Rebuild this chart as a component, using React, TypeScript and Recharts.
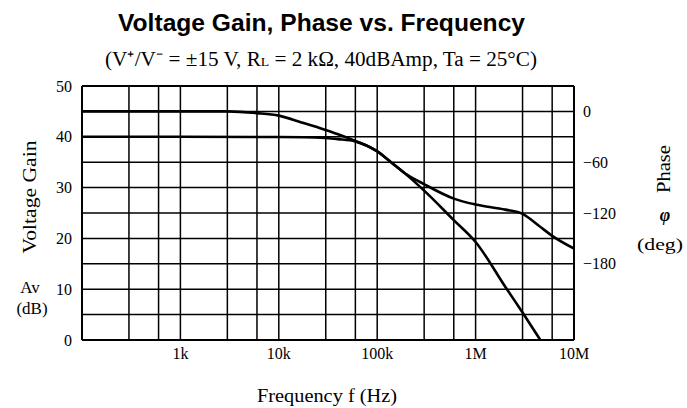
import React from "react";
import { ComposedChart, Line, XAxis, YAxis, CartesianGrid } from "recharts";

// Gain curve: frequency (Hz) vs voltage gain (dB)
const gainFreq = [100, 1000, 10000, 30000, 40000, 60000, 100000, 138000, 191000, 300000, 600000, 1000000, 2000000, 3000000, 4550000];
const gainDb = [40, 40, 39.95, 39.75, 39.55, 39.1, 37.1, 35.0, 32.8, 29.4, 23.6, 19.3, 10.5, 5.4, 0];

// Phase curve: frequency (Hz) vs phase (deg)
const phaseFreq = [100, 1000, 3000, 6000, 10000, 17000, 30000, 40000, 60000, 100000, 138000, 191000, 300000, 600000, 1000000, 2000000, 3000000, 4500000, 6000000, 10000000];
const phaseDeg = [0, 0, 0, -2, -5, -13, -22, -27, -35, -47, -60, -73, -86, -103, -110, -116, -121, -136, -147, -162];

// Axis ticks
const freqGrid = [100, 300, 600, 1000, 3000, 6000, 10000, 30000, 60000, 100000, 300000, 600000, 1000000, 3000000, 6000000, 10000000];
const freqLabels: Record<number, string> = { 1000: "1k", 10000: "10k", 100000: "100k", 1000000: "1M", 10000000: "10M" };
const gainTicks = [0, 5, 10, 15, 20, 25, 30, 35, 40, 45, 50];
const phaseTicks = [0, -60, -120, -180];

const gainData = gainFreq.map((f, i) => ({ f, db: gainDb[i] }));
const phaseData = phaseFreq.map((f, i) => ({ f, deg: phaseDeg[i] }));

const serif = "'Liberation Serif', 'Times New Roman', serif";
const tickStyle = { fontFamily: serif, fontSize: 16, fill: "#000" };

export default function App() {
  return (
    <div style={{ position: "absolute", left: 0, top: 0, width: 687, height: 408, background: "#fff" }}>
      <ComposedChart
        width={687}
        height={408}
        margin={{ top: 86, right: 53, left: 32, bottom: 38 }}
      >
        <CartesianGrid yAxisId="gain" stroke="#000" strokeWidth={1.5} fill="none" />
        <XAxis
          dataKey="f"
          type="number"
          scale="log"
          domain={[100, 10000000]}
          ticks={freqGrid}
          tickFormatter={(v: number) => freqLabels[v] ?? ""}
          allowDataOverflow
          height={30}
          tickLine={false}
          tickMargin={2}
          axisLine={{ stroke: "#000", strokeWidth: 2 }}
          tick={tickStyle}
          interval={0}
        />
        <YAxis
          yAxisId="gain"
          orientation="left"
          type="number"
          domain={[0, 50]}
          ticks={gainTicks}
          tickFormatter={(v: number) => (v % 10 === 0 ? String(v) : "")}
          width={50}
          tickLine={false}
          tickMargin={4}
          axisLine={{ stroke: "#000", strokeWidth: 2 }}
          tick={tickStyle}
          interval={0}
        />
        <YAxis
          yAxisId="phase"
          orientation="right"
          type="number"
          domain={[-270, 30]}
          ticks={phaseTicks}
          tickFormatter={(v: number) => (v === 0 ? "0" : "\u2212" + String(-v))}
          width={60}
          tickLine={false}
          tickMargin={3}
          axisLine={{ stroke: "#000", strokeWidth: 2 }}
          tick={tickStyle}
          interval={0}
        />
        <Line
          yAxisId="gain"
          data={gainData}
          dataKey="db"
          type="monotone"
          stroke="#000"
          strokeWidth={2.6}
          dot={false}
          isAnimationActive={false}
        />
        <Line
          yAxisId="phase"
          data={phaseData}
          dataKey="deg"
          type="monotone"
          stroke="#000"
          strokeWidth={2.6}
          dot={false}
          isAnimationActive={false}
        />
      </ComposedChart>
      <svg
        width={687}
        height={408}
        style={{ position: "absolute", left: 0, top: 0, pointerEvents: "none" }}
      >
        <line x1={82} y1={86} x2={574} y2={86} stroke="#000" strokeWidth={2} />
        <text
          x={321.5}
          y={31}
          textAnchor="middle"
          fontFamily="'Liberation Sans', Arial, sans-serif"
          fontWeight="bold"
          fontSize={24}
          textLength={407}
          lengthAdjust="spacingAndGlyphs"
        >
          Voltage Gain, Phase vs. Frequency
        </text>
        <text
          x={321}
          y={66}
          textAnchor="middle"
          fontFamily={serif}
          fontSize={20}
          textLength={432}
          lengthAdjust="spacingAndGlyphs"
        >
          (V⁺/V⁻ = ±15 V,  R<tspan fontSize={13}>L</tspan> = 2 kΩ,  40dBAmp,  Ta = 25°C)
        </text>
        <text
          transform="translate(36,197) rotate(-90)"
          textAnchor="middle"
          fontFamily={serif}
          fontSize={19}
          textLength={113}
          lengthAdjust="spacingAndGlyphs"
        >
          Voltage Gain
        </text>
        <text x={30} y={293} textAnchor="middle" fontFamily={serif} fontSize={17}>
          Av
        </text>
        <text x={32} y={314} textAnchor="middle" fontFamily={serif} fontSize={17}>
          (dB)
        </text>
        <text
          transform="translate(670,169) rotate(-90)"
          textAnchor="middle"
          fontFamily={serif}
          fontSize={19}
          textLength={48}
          lengthAdjust="spacingAndGlyphs"
        >
          Phase
        </text>
        <text
          x={665}
          y={221}
          textAnchor="middle"
          fontFamily={serif}
          fontSize={18}
          fontWeight="bold"
          fontStyle="italic"
        >
          φ
        </text>
        <text
          x={660}
          y={250}
          textAnchor="middle"
          fontFamily={serif}
          fontSize={17}
          textLength={46}
          lengthAdjust="spacingAndGlyphs"
        >
          (deg)
        </text>
        <text
          x={327}
          y={402}
          textAnchor="middle"
          fontFamily={serif}
          fontSize={18}
          textLength={140}
          lengthAdjust="spacingAndGlyphs"
        >
          Frequency f (Hz)
        </text>
      </svg>
    </div>
  );
}
